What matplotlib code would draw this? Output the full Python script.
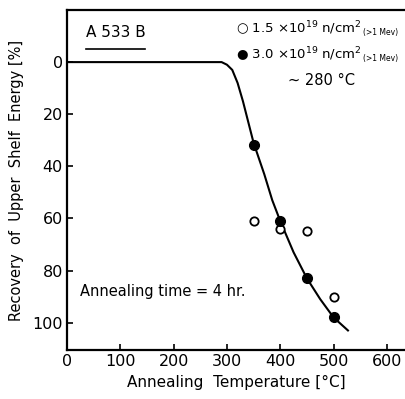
import matplotlib
matplotlib.use("Agg")
import matplotlib.pyplot as plt

# data
open_x = [350, 400, 450, 500]
open_y = [61, 64, 65, 90]
filled_x = [350, 400, 450, 500]
filled_y = [32, 61, 83, 98]
curve_x = [0, 290, 300, 310, 320, 330, 340, 350, 370, 385, 400, 425, 450, 475, 500, 527]
curve_y = [0, 0, 1, 3, 8, 15, 23, 31, 43, 53, 61, 73, 83, 91, 98, 103]
xticks = [0, 100, 200, 300, 400, 500, 600]
yticks = [0, 20, 40, 60, 80, 100]

plt.rcParams['font.family'] = ['DejaVu Sans']
fig = plt.figure(figsize=(4.05, 3.99), dpi=100)
ax = fig.add_axes([67/405, 1-350/399, (405-67)/405, (350-10)/399])

ax.plot(curve_x, curve_y, color='black', lw=1.5)
ax.plot(open_x, open_y, 'o', mfc='white', mec='black', mew=1.3, ms=6)
ax.plot(filled_x, filled_y, 'o', color='black', ms=7)

ax.set_xlim(0, 634)
ax.set_ylim(110.5, -20)
ax.set_xticks(xticks)
ax.set_yticks(yticks)
ax.tick_params(direction='in', length=4, width=1.2, labelsize=11.5, pad=3)
ax.spines['right'].set_visible(False)
for s in ['left', 'bottom', 'top']:
    ax.spines[s].set_linewidth(1.6)

ax.set_xlabel('Annealing  Temperature [°C]', fontsize=11)
ax.set_ylabel('Recovery  of  Upper  Shelf  Energy [%]', fontsize=10.5, labelpad=6)

ax.text(0.055, 0.955, 'A 533 B', transform=ax.transAxes, fontsize=11, va='top', ha='left')
ax.plot([0.055, 0.232], [0.885, 0.885], transform=ax.transAxes, color='black', lw=1.2)

t1 = ax.text(0.5, 0.97, '○ 1.5 ×10$^{19}$ n/cm$^2$', transform=ax.transAxes,
             fontsize=9.5, va='top', ha='left')
ax.annotate('(>1 Mev)', xy=(1, 0), xycoords=t1, xytext=(1, 1), textcoords='offset points',
            fontsize=5.5, va='bottom', ha='left')
t2 = ax.text(0.5, 0.895, '● 3.0 ×10$^{19}$ n/cm$^2$', transform=ax.transAxes,
             fontsize=9.5, va='top', ha='left')
ax.annotate('(>1 Mev)', xy=(1, 0), xycoords=t2, xytext=(1, 1), textcoords='offset points',
            fontsize=5.5, va='bottom', ha='left')
ax.text(0.655, 0.815, '~ 280 °C', transform=ax.transAxes, fontsize=10.5, va='top', ha='left')

ax.text(25, 88, 'Annealing time = 4 hr.', fontsize=10.5, va='center', ha='left')

fig.savefig('out.png', dpi=100)
